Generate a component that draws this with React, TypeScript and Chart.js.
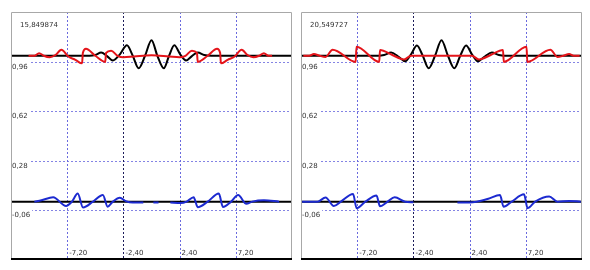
import React, { useEffect, useRef } from "react";
import { Chart, registerables } from "chart.js";

Chart.register(...registerables);

const X_MIN = -12;
const X_MAX = 12;
const Y_MIN = -0.4;
const Y_MAX = 1.3;

const xGridValues = [-7.2, -2.4, 2.4, 7.2];
const xTickLabels = ["-7,20", "-2,40", "2,40", "7,20"];
const yGridValues = [-0.06, 0.28, 0.62, 0.96];
const yTickLabels = ["-0,06", "0,28", "0,62", "0,96"];
const panelTitles = ["15,849874", "20,549727"];

const baselineX = [-12, 12];
const baselineBottomY = [0, 0];

// ---- left panel (t = 15,849874) ----
const leftBlackX = [-12, -5.3, -4.8, -4.3, -3.8, -3.3, -2.7, -2.1, -1.6, -1.1, -0.55, 0, 0.5, 1.05, 1.5, 1.95, 2.45, 2.95, 3.45, 3.95, 4.5, 5.1, 12];
const leftBlackY = [1, 1, 1.005, 1.022, 0.998, 0.968, 1.01, 1.072, 1.0, 0.914, 1.0, 1.107, 1.0, 0.914, 1.0, 1.072, 1.01, 0.968, 0.998, 1.022, 1.005, 1, 1];

const leftRedX = [-10.5, -10.0, -9.6, -9.2, -8.7, -8.2, -7.7, -7.1, -6.5, -5.93, -5.86, -5.6, -4.8, -3.95, -3.88, -3.45, -2.9, -2.4, -1.5, 0, 1.5, 2.4, 2.9, 3.45, 3.88, 3.95, 4.8, 5.6, 5.86, 5.93, 6.5, 7.1, 7.7, 8.2, 8.7, 9.2, 9.6, 10.0, 10.3];
const leftRedY = [1.0, 1.0, 1.018, 1.0, 0.99, 1.005, 1.042, 0.995, 0.972, 0.948, 1.02, 1.048, 1.0, 0.958, 1.02, 1.035, 1.0, 0.99, 0.995, 1.003, 0.995, 0.99, 1.0, 1.035, 1.02, 0.958, 1.0, 1.048, 1.02, 0.948, 0.972, 0.995, 1.042, 1.005, 0.99, 1.0, 1.018, 1.0, 1.0];

const leftBlueX = [-10.0, -9.4, -8.4, -7.3, -6.8, -6.3, -5.85, -5.0, -4.15, -3.75, -3.3, -2.7, -2.2, -1.6, -0.7, -0.69, 0.15, 0.16, 0.6, 0.61, 1.6, 1.61, 2.5, 3.0, 3.6, 3.95, 4.8, 5.75, 6.1, 6.8, 7.4, 8.1, 8.6, 9.6, 10.9];
const leftBlueY = [0.0, 0.01, 0.03, -0.03, 0.0, 0.055, -0.04, 0.0, 0.046, -0.035, 0.0, 0.026, 0.004, -0.006, -0.006, null, null, -0.006, -0.006, null, null, -0.006, -0.01, 0.0, 0.03, -0.038, 0.0, 0.055, -0.036, 0.0, 0.045, -0.015, 0.0, 0.01, 0.0];

// ---- right panel (t = 20,549727) ----
const rightBlackX = [-12, -5.4, -4.9, -4.3, -3.7, -3.1, -2.6, -2.1, -1.6, -1.1, -0.55, 0, 0.55, 1.1, 1.6, 2.1, 2.6, 3.1, 3.7, 4.3, 4.9, 5.4, 12];
const rightBlackY = [1, 1, 1.005, 1.022, 0.995, 0.962, 1.01, 1.07, 1.0, 0.914, 1.0, 1.107, 1.0, 0.914, 1.0, 1.07, 1.01, 0.962, 0.995, 1.022, 1.005, 1, 1];

const rightRedX = [-11.8, -11.3, -10.9, -10.4, -9.9, -9.3, -7.33, -7.26, -5.32, -5.25, -4.2, -3.2, -2.6, 0, 2.6, 3.2, 4.2, 5.25, 5.32, 7.26, 7.33, 9.3, 9.9, 10.4, 10.9, 11.3, 11.8];
const rightRedY = [1.0, 1.0, 1.012, 1.0, 0.992, 1.042, 0.958, 1.062, 0.958, 1.04, 1.005, 0.975, 1.0, 1.0, 1.0, 0.975, 1.005, 1.04, 0.958, 1.062, 0.958, 1.042, 0.992, 1.0, 1.012, 1.0, 1.0];

const rightBlueX = [-11.9, -10.6, -9.9, -9.2, -8.6, -7.55, -7.25, -6.5, -5.55, -5.25, -4.6, -4.0, -3.1, -2.4, -2.39, 1.35, 1.36, 2.4, 3.0, 4.0, 5.0, 5.3, 6.0, 7.05, 7.35, 8.0, 9.2, 9.9, 10.9, 11.9];
const rightBlueY = [0.0, 0.0, 0.028, -0.03, 0.0, 0.052, -0.045, 0.0, 0.042, -0.032, 0.0, 0.03, 0.0, -0.004, null, null, -0.005, -0.005, 0.0, 0.02, 0.045, -0.035, 0.0, 0.05, -0.045, 0.0, 0.035, 0.0, 0.005, 0.0];

const toPoints = (xs: number[], ys: (number | null)[]) =>
  xs.map((x, i) => ({ x, y: ys[i] }));

const RED = "#e4141a";
const BLUE = "#1c2ad0";
const BLACK = "#000000";

function makePlugin(title: string) {
  return {
    id: "panelDecor",
    beforeDatasetsDraw(chart: any) {
      const { ctx, chartArea: a, scales } = chart;
      const xs = scales.x;
      const ys = scales.y;
      ctx.save();
      ctx.lineWidth = 1;
      ctx.setLineDash([2, 2]);
      yGridValues.forEach((v) => {
        const py = Math.round(ys.getPixelForValue(v)) + 0.5;
        ctx.strokeStyle = "#8484e4";
        ctx.beginPath();
        ctx.moveTo(a.left, py);
        ctx.lineTo(a.right, py);
        ctx.stroke();
      });
      xGridValues.forEach((v) => {
        const px = Math.round(xs.getPixelForValue(v)) + 0.5;
        ctx.strokeStyle = v === -2.4 ? "#1c1c5a" : "#6a6ade";
        ctx.beginPath();
        ctx.moveTo(px, a.top);
        ctx.lineTo(px, a.bottom);
        ctx.stroke();
      });
      ctx.setLineDash([]);
      ctx.font = '7px "DejaVu Sans"';
      ctx.textBaseline = "alphabetic";
      ctx.textAlign = "left";
      yTickLabels.forEach((t, i) => {
        const py = ys.getPixelForValue(yGridValues[i]);
        const w = ctx.measureText(t).width;
        ctx.fillStyle = "#ffffff";
        ctx.fillRect(a.left + 1, py - 1, w + 2, 9);
        ctx.fillStyle = "#333333";
        ctx.fillText(t, a.left + 1, py + 7);
      });
      xTickLabels.forEach((t, i) => {
        const px = xs.getPixelForValue(xGridValues[i]);
        ctx.fillStyle = "#333333";
        ctx.fillText(t, px + 2, a.bottom - 5.5);
      });
      ctx.fillStyle = "#333333";
      ctx.fillText(title, a.left + 9, a.top + 15);
      ctx.restore();
    },
    afterDraw(chart: any) {
      const { ctx, chartArea: a } = chart;
      ctx.save();
      ctx.setLineDash([]);
      ctx.strokeStyle = "#a8a8a8";
      ctx.lineWidth = 1;
      ctx.beginPath();
      ctx.moveTo(a.left + 0.5, a.bottom);
      ctx.lineTo(a.left + 0.5, a.top + 0.5);
      ctx.lineTo(a.right - 0.5, a.top + 0.5);
      ctx.lineTo(a.right - 0.5, a.bottom);
      ctx.stroke();
      ctx.strokeStyle = "#000000";
      ctx.lineWidth = 2;
      ctx.beginPath();
      ctx.moveTo(a.left, a.bottom - 1);
      ctx.lineTo(a.right, a.bottom - 1);
      ctx.stroke();
      ctx.restore();
    },
  };
}

function Panel(props: {
  left: number;
  title: string;
  blackX: number[];
  blackY: number[];
  redX: number[];
  redY: number[];
  blueX: number[];
  blueY: (number | null)[];
}) {
  const ref = useRef<HTMLCanvasElement | null>(null);
  useEffect(() => {
    if (!ref.current) return;
    const chart = new Chart(ref.current, {
      type: "line",
      data: {
        datasets: [
          {
            data: toPoints(props.redX, props.redY),
            borderColor: RED,
            borderWidth: 2,
            cubicInterpolationMode: "monotone",
          },
          {
            data: toPoints(props.blackX, props.blackY),
            borderColor: BLACK,
            borderWidth: 2,
            cubicInterpolationMode: "monotone",
          },
          {
            data: toPoints(props.blueX, props.blueY),
            borderColor: BLUE,
            borderWidth: 2,
            cubicInterpolationMode: "monotone",
            spanGaps: false,
          },
          {
            data: toPoints(baselineX, baselineBottomY),
            borderColor: BLACK,
            borderWidth: 2,
          },
        ] as any,
      },
      options: {
        responsive: false,
        maintainAspectRatio: false,
        animation: false,
        layout: { padding: 0 },
        elements: { point: { radius: 0 } },
        plugins: { legend: { display: false }, tooltip: { enabled: false } },
        scales: {
          x: { type: "linear", min: X_MIN, max: X_MAX, display: false },
          y: { type: "linear", min: Y_MIN, max: Y_MAX, display: false },
        },
      } as any,
      plugins: [makePlugin(props.title)],
    });
    return () => chart.destroy();
  }, []);
  return (
    <canvas
      ref={ref}
      width={281}
      height={248}
      style={{ position: "absolute", left: props.left, top: 12, width: 281, height: 248, display: "block" }}
    />
  );
}

export default function App() {
  return (
    <div style={{ position: "absolute", left: 0, top: 0, width: 590, height: 270, background: "#ffffff" }}>
      <Panel left={11} title={panelTitles[0]} blackX={leftBlackX} blackY={leftBlackY} redX={leftRedX} redY={leftRedY} blueX={leftBlueX} blueY={leftBlueY} />
      <Panel left={301} title={panelTitles[1]} blackX={rightBlackX} blackY={rightBlackY} redX={rightRedX} redY={rightRedY} blueX={rightBlueX} blueY={rightBlueY} />
    </div>
  );
}
